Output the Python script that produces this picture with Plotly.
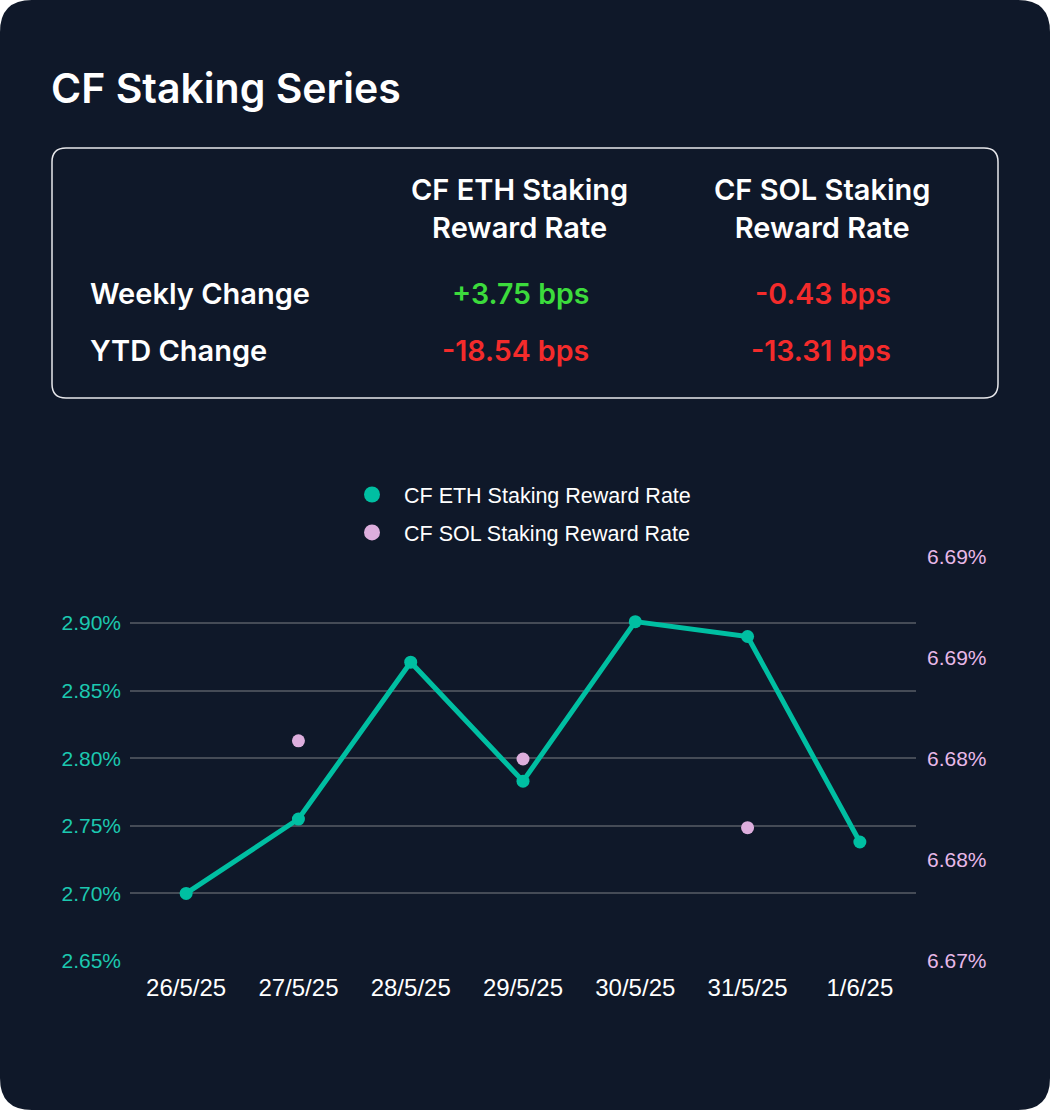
import plotly.graph_objects as go

# ---------------- data ----------------
dates = ["26/5/25", "27/5/25", "28/5/25", "29/5/25", "30/5/25", "31/5/25", "1/6/25"]
eth_rate = [2.700, 2.755, 2.871, 2.783, 2.901, 2.890, 2.738]
sol_rate = [None, 6.6809, None, 6.6800, None, 6.6766, None]

eth_name = "CF ETH Staking Reward Rate"
sol_name = "CF SOL Staking Reward Rate"

left_tickvals = [2.65, 2.70, 2.75, 2.80, 2.85, 2.90]
left_ticktext = ["2.65%", "2.70%", "2.75%", "2.80%", "2.85%", "2.90%"]
right_tickvals = [6.670, 6.675, 6.680, 6.685, 6.690]
right_ticktext = ["6.67%", "6.68%", "6.68%", "6.69%", "6.69%"]

table_title = "CF Staking Series"
table_cols = ["CF ETH Staking<br>Reward Rate", "CF SOL Staking<br>Reward Rate"]
table_rows = ["Weekly Change", "YTD Change"]
eth_changes = ["+3.75 bps", "-18.54 bps"]
sol_changes = ["-0.43 bps", "-13.31 bps"]

# ---------------- styles ----------------
BG = "#0F1829"
TEAL = "#00BFA2"
TEAL_TXT = "#1CC8B0"
PINK = "#DDAEDD"
PINK_TXT = "#E8B8E8"
GREEN = "#3CDB3C"
RED = "#F42B2B"
GRID = "#454B56"
CHART_FONT = "Liberation Sans, Arial, sans-serif"
CARD_FONT = "Inter, Noto Sans, sans-serif"

W, H = 1050, 1110
L, R, T, B = 130, 134, 557, 149
PW = W - L - R
PH = H - T - B


def px(x):
    return (x - L) / PW


def py(y):
    return (H - B - y) / PH


def rounded(x0, y0, x1, y1, r):
    return (
        f"M {px(x0 + r)},{py(y0)} L {px(x1 - r)},{py(y0)} "
        f"Q {px(x1)},{py(y0)} {px(x1)},{py(y0 + r)} "
        f"L {px(x1)},{py(y1 - r)} Q {px(x1)},{py(y1)} {px(x1 - r)},{py(y1)} "
        f"L {px(x0 + r)},{py(y1)} Q {px(x0)},{py(y1)} {px(x0)},{py(y1 - r)} "
        f"L {px(x0)},{py(y0 + r)} Q {px(x0)},{py(y0)} {px(x0 + r)},{py(y0)} Z"
    )


fig = go.Figure()

# ETH line + markers (data), legend proxies with larger symbols
fig.add_trace(go.Scatter(
    x=dates, y=eth_rate, mode="lines+markers", name=eth_name, showlegend=False,
    line=dict(color=TEAL, width=5), marker=dict(color=TEAL, size=13), yaxis="y"))
fig.add_trace(go.Scatter(
    x=dates, y=sol_rate, mode="markers", name=sol_name, showlegend=False,
    marker=dict(color=PINK, size=13), yaxis="y2"))
fig.add_trace(go.Scatter(
    x=[dates[0]], y=[None], mode="markers", name=eth_name, legendgroup="eth",
    marker=dict(color=TEAL, size=16), yaxis="y"))
fig.add_trace(go.Scatter(
    x=[dates[0]], y=[None], mode="markers", name=sol_name, legendgroup="sol",
    marker=dict(color=PINK, size=16), yaxis="y2"))

shapes = [
    dict(type="path", xref="paper", yref="paper", path=rounded(0, 0, W, H, 32),
         fillcolor=BG, line=dict(width=0), layer="below"),
    dict(type="path", xref="paper", yref="paper", path=rounded(52, 148, 998, 398, 14),
         fillcolor="rgba(0,0,0,0)", line=dict(color="#E8E8EC", width=1.5), layer="below"),
]

annotations = [
    dict(text=table_title, x=px(49), y=py(88), xref="paper", yref="paper",
         xanchor="left", yanchor="middle", showarrow=False,
         font=dict(family=CARD_FONT, size=41, color="white", weight=600)),
]
col_x = [519, 822]
val_right = [591, 893]
row_y = [293, 350]
for cx, txt in zip(col_x, table_cols):
    annotations.append(dict(text=txt, x=px(cx), y=py(209), xref="paper", yref="paper",
                            xanchor="center", yanchor="middle", showarrow=False, align="center",
                            font=dict(family=CARD_FONT, size=29, color="white", weight=600)))
for ry, txt in zip(row_y, table_rows):
    annotations.append(dict(text=txt, x=px(88), y=py(ry), xref="paper", yref="paper",
                            xanchor="left", yanchor="middle", showarrow=False,
                            font=dict(family=CARD_FONT, size=29, color="white", weight=600)))
for vx, col in zip(val_right, [eth_changes, sol_changes]):
    for ry, txt in zip(row_y, col):
        color = GREEN if txt.startswith("+") else RED
        annotations.append(dict(text=txt, x=px(vx), y=py(ry), xref="paper", yref="paper",
                                xanchor="right", yanchor="middle", showarrow=False,
                                font=dict(family=CARD_FONT, size=28.5, color=color, weight=600)))

fig.update_layout(
    width=W, height=H,
    margin=dict(l=L, r=R, t=T, b=B, pad=0),
    paper_bgcolor="white",
    plot_bgcolor="rgba(0,0,0,0)",
    font=dict(family=CHART_FONT, color="white"),
    shapes=shapes,
    annotations=annotations,
    showlegend=True,
    legend=dict(
        orientation="v", x=px(340), y=py(474), xanchor="left", yanchor="top",
        xref="paper", yref="paper", itemwidth=54, tracegroupgap=7,
        bgcolor="rgba(0,0,0,0)", font=dict(family=CHART_FONT, size=21.5, color="white"),
        itemsizing="trace",
    ),
    xaxis=dict(
        type="category", range=[-0.5, 6.5], showgrid=False, showline=False,
        zeroline=False, ticks="", tickfont=dict(size=24, color="white"),
        ticklabelstandoff=10,
    ),
    yaxis=dict(
        range=[2.65, 2.9488], tickvals=left_tickvals, ticktext=left_ticktext,
        showgrid=True, gridcolor=GRID, gridwidth=2, zeroline=False, showline=False,
        ticks="", tickfont=dict(size=21, color=TEAL_TXT), ticklabelstandoff=8,
    ),
    yaxis2=dict(
        range=[6.67, 6.69], tickvals=right_tickvals, ticktext=right_ticktext,
        overlaying="y", side="right", showgrid=False, zeroline=False, showline=False,
        ticks="", tickfont=dict(size=21, color=PINK_TXT), ticklabelstandoff=10,
    ),
)

fig.write_html("out.html", config={"displayModeBar": False},
               post_script="document.body.style.margin='0px';")
